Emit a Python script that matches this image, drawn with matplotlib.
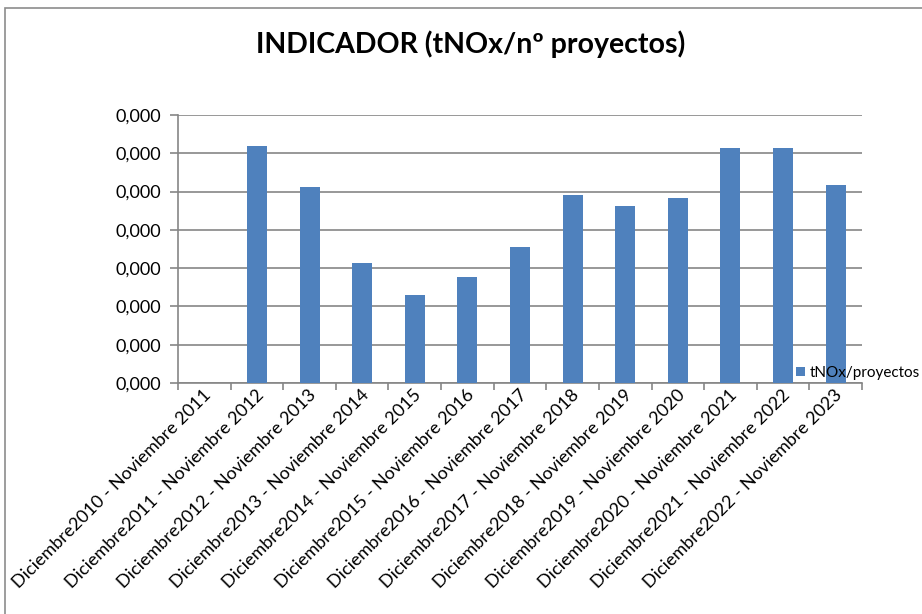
import matplotlib
matplotlib.use('Agg')
import matplotlib.pyplot as plt
import matplotlib.patches as mpatches
from matplotlib.ticker import FuncFormatter, MultipleLocator
import numpy as np

periodos = ['Diciembre%d - Noviembre %d' % (a, a + 1) for a in range(2010, 2023)]
# tNOx por proyecto (valores muy pequeños, por eso las etiquetas salen a 0,000)
tnox_proyecto = [0.0, 6.20e-5, 5.13e-5, 3.14e-5, 2.30e-5, 2.77e-5, 3.56e-5,
                 4.90e-5, 4.63e-5, 4.84e-5, 6.13e-5, 6.15e-5, 5.18e-5]
y_step = 1e-5
y_max = 7e-5

plt.rcParams['font.family'] = ['Lato', 'DejaVu Sans']

fig = plt.figure(figsize=(9.22, 6.14), dpi=100)
ax = fig.add_axes([178 / 922, 1 - 383 / 614, 684 / 922, 268 / 614])

# marco exterior del gráfico
fig.patches.append(mpatches.Rectangle((5 / 922, -0.05), 1.1, 1 - 8 / 614 + 0.05,
                                      transform=fig.transFigure, fill=False,
                                      edgecolor='#8c8c8c', linewidth=1.2))

ind = np.arange(len(periodos))
bars = ax.bar(ind, tnox_proyecto, 0.38, color='#4f81bd', zorder=3, label='tNOx/proyectos')

ax.set_xlim(-0.5, len(periodos) - 0.5)
ax.set_ylim(0, y_max)
ax.yaxis.set_major_locator(MultipleLocator(y_step))
ax.yaxis.set_major_formatter(FuncFormatter(lambda v, p: ('%.3f' % v).replace('.', ',')))
ax.grid(True, axis='y', color='#868686', linewidth=1.2, zorder=0)

for s in ['top', 'right']:
    ax.spines[s].set_visible(False)
for s in ['left', 'bottom']:
    ax.spines[s].set_color('#868686')
    ax.spines[s].set_linewidth(1.2)

# marcas del eje x en los límites entre categorías
ax.set_xticks(list(ind - 0.5) + [len(periodos) - 0.5])
ax.set_xticklabels([])
ax.tick_params(axis='x', length=5, color='#868686', width=1.2)
ax.tick_params(axis='y', length=6, color='#868686', width=1.2, labelsize=13, pad=6)

for i, txt in enumerate(periodos):
    ax.text(i + 0.08, -0.035, txt, transform=ax.get_xaxis_transform(), rotation=45,
            rotation_mode='anchor', ha='right', va='center', fontsize=13)

fig.text(0.51, 1 - 44 / 614, 'INDICADOR (tNOx/nº proyectos)', ha='center', va='center',
         fontsize=20.5, fontweight='bold')

ax.legend(loc='lower left', bbox_to_anchor=(796 / 922, 1 - 380 / 614),
          bbox_transform=fig.transFigure, frameon=False, fontsize=11,
          handlelength=0.6, handleheight=0.6, handletextpad=0.3, borderpad=0, borderaxespad=0)

fig.savefig('out.png', dpi=100)
